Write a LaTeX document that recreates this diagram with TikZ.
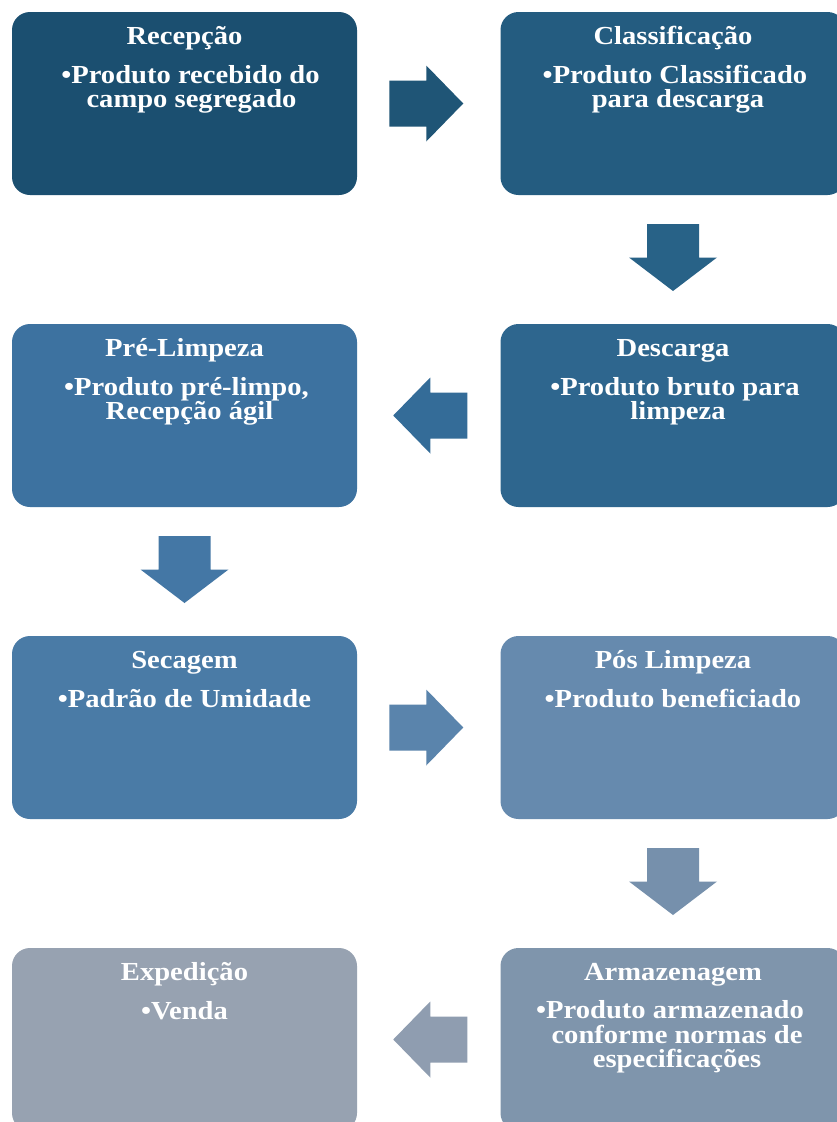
\documentclass[tikz,border=0pt]{standalone}
\usepackage{fontspec}
\setmainfont{Liberation Serif}[FakeStretch=1.1]
\usetikzlibrary{calc}
\definecolor{cRec}{HTML}{1B4F70}
\definecolor{cA1}{HTML}{1F5576}
\definecolor{cCls}{HTML}{245C80}
\definecolor{cA2}{HTML}{286287}
\definecolor{cDes}{HTML}{2E668E}
\definecolor{cA3}{HTML}{346C98}
\definecolor{cPre}{HTML}{3D72A0}
\definecolor{cA4}{HTML}{4477A5}
\definecolor{cSec}{HTML}{4A7BA6}
\definecolor{cA5}{HTML}{5A84AC}
\definecolor{cPos}{HTML}{668AAE}
\definecolor{cA6}{HTML}{7690AC}
\definecolor{cArm}{HTML}{7F95AC}
\definecolor{cA7}{HTML}{8F9DB0}
\definecolor{cExp}{HTML}{97A2B1}
\newcommand{\rblk}[2]{\fill[#2, shift={(#1)}] (-37,-23) -- (0,-23) -- (0,-38) -- (37,0) -- (0,38) -- (0,23) -- (-37,23) -- cycle;}
\newcommand{\lblk}[2]{\fill[#2, shift={(#1)}] (37,-23) -- (0,-23) -- (0,-38) -- (-37,0) -- (0,38) -- (0,23) -- (37,23) -- cycle;}
\newcommand{\dblk}[2]{\fill[#2, shift={(#1)}] (-26,-33.5) -- (26,-33.5) -- (26,0) -- (44,0) -- (0,33.5) -- (-44,0) -- (-26,0) -- cycle;}
\begin{document}
\begin{tikzpicture}[x=1pt,y=-1pt,
  box/.style={rounded corners=18pt, minimum width=345pt, minimum height=183pt, inner sep=0pt, draw=none},
  txt/.style={anchor=base, text=white, inner sep=0pt, font=\fontsize{26}{26}\selectfont\bfseries}]
\useasboundingbox (0,0) rectangle (837,1122);
\fill[white] (0,0) rectangle (837,1122);
\clip (0,0) rectangle (837,1122);
% boxes
\node[box, fill=cRec] (rec) at (184.5,103.5) {};
\node[box, fill=cCls] (cls) at (673,103.5) {};
\node[box, fill=cDes] (des) at (673,415.5) {};
\node[box, fill=cPre] (pre) at (184.5,415.5) {};
\node[box, fill=cSec] (sec) at (184.5,727.5) {};
\node[box, fill=cPos] (pos) at (673,727.5) {};
\node[box, fill=cArm] (arm) at (673,1039.5) {};
\node[box, fill=cExp] (exp) at (184.5,1039.5) {};
% arrows
\coordinate (a1) at ($(rec.east)!0.5!(cls.west)+(-2.5,0)$);
\coordinate (a2) at ($(cls.south)!0.5!(des.north)+(0,-2)$);
\coordinate (a3) at ($(des.west)!0.5!(pre.east)+(1.5,0)$);
\coordinate (a4) at ($(pre.south)!0.5!(sec.north)+(0,-2)$);
\coordinate (a5) at ($(sec.east)!0.5!(pos.west)+(-2.5,0)$);
\coordinate (a6) at ($(pos.south)!0.5!(arm.north)+(0,-2)$);
\coordinate (a7) at ($(arm.west)!0.5!(exp.east)+(1.5,0)$);
\rblk{a1}{cA1}
\dblk{a2}{cA2}
\lblk{a3}{cA3}
\dblk{a4}{cA4}
\rblk{a5}{cA5}
\dblk{a6}{cA6}
\lblk{a7}{cA7}
% texts
\node[txt] (rec-t) at ($(rec.north)+(0,33)$) {Recepção};
\node[txt] (rec-1) at ($(rec.north)+(6,72)$) {•Produto recebido do};
\node[txt] (rec-2) at ($(rec.north)+(7,96)$) {campo segregado};
\node[txt] (cls-t) at ($(cls.north)+(0,33)$) {Classificação};
\node[txt] (cls-1) at ($(cls.north)+(2,72)$) {•Produto Classificado};
\node[txt] (cls-2) at ($(cls.north)+(5,96)$) {para descarga};
\node[txt] (des-t) at ($(des.north)+(0,33)$) {Descarga};
\node[txt] (des-1) at ($(des.north)+(2,72)$) {•Produto bruto para};
\node[txt] (des-2) at ($(des.north)+(5,96)$) {limpeza};
\node[txt] (pre-t) at ($(pre.north)+(0,33)$) {Pré-Limpeza};
\node[txt] (pre-1) at ($(pre.north)+(2,72)$) {•Produto pré-limpo,};
\node[txt] (pre-2) at ($(pre.north)+(5,96)$) {Recepção ágil};
\node[txt] (sec-t) at ($(sec.north)+(0,33)$) {Secagem};
\node[txt] (sec-1) at ($(sec.north)+(0,72)$) {•Padrão de Umidade};
\node[txt] (pos-t) at ($(pos.north)+(0,33)$) {Pós Limpeza};
\node[txt] (pos-1) at ($(pos.north)+(0,72)$) {•Produto beneficiado};
\node[txt] (arm-t) at ($(arm.north)+(0,33)$) {Armazenagem};
\node[txt] (arm-1) at ($(arm.north)+(-3,71)$) {•Produto armazenado};
\node[txt] (arm-2) at ($(arm.north)+(4,95.5)$) {conforme normas de};
\node[txt] (arm-3) at ($(arm.north)+(4,120)$) {especificações};
\node[txt] (exp-t) at ($(exp.north)+(0,33)$) {Expedição};
\node[txt] (exp-1) at ($(exp.north)+(0,72)$) {•Venda};
\end{tikzpicture}
\end{document}
